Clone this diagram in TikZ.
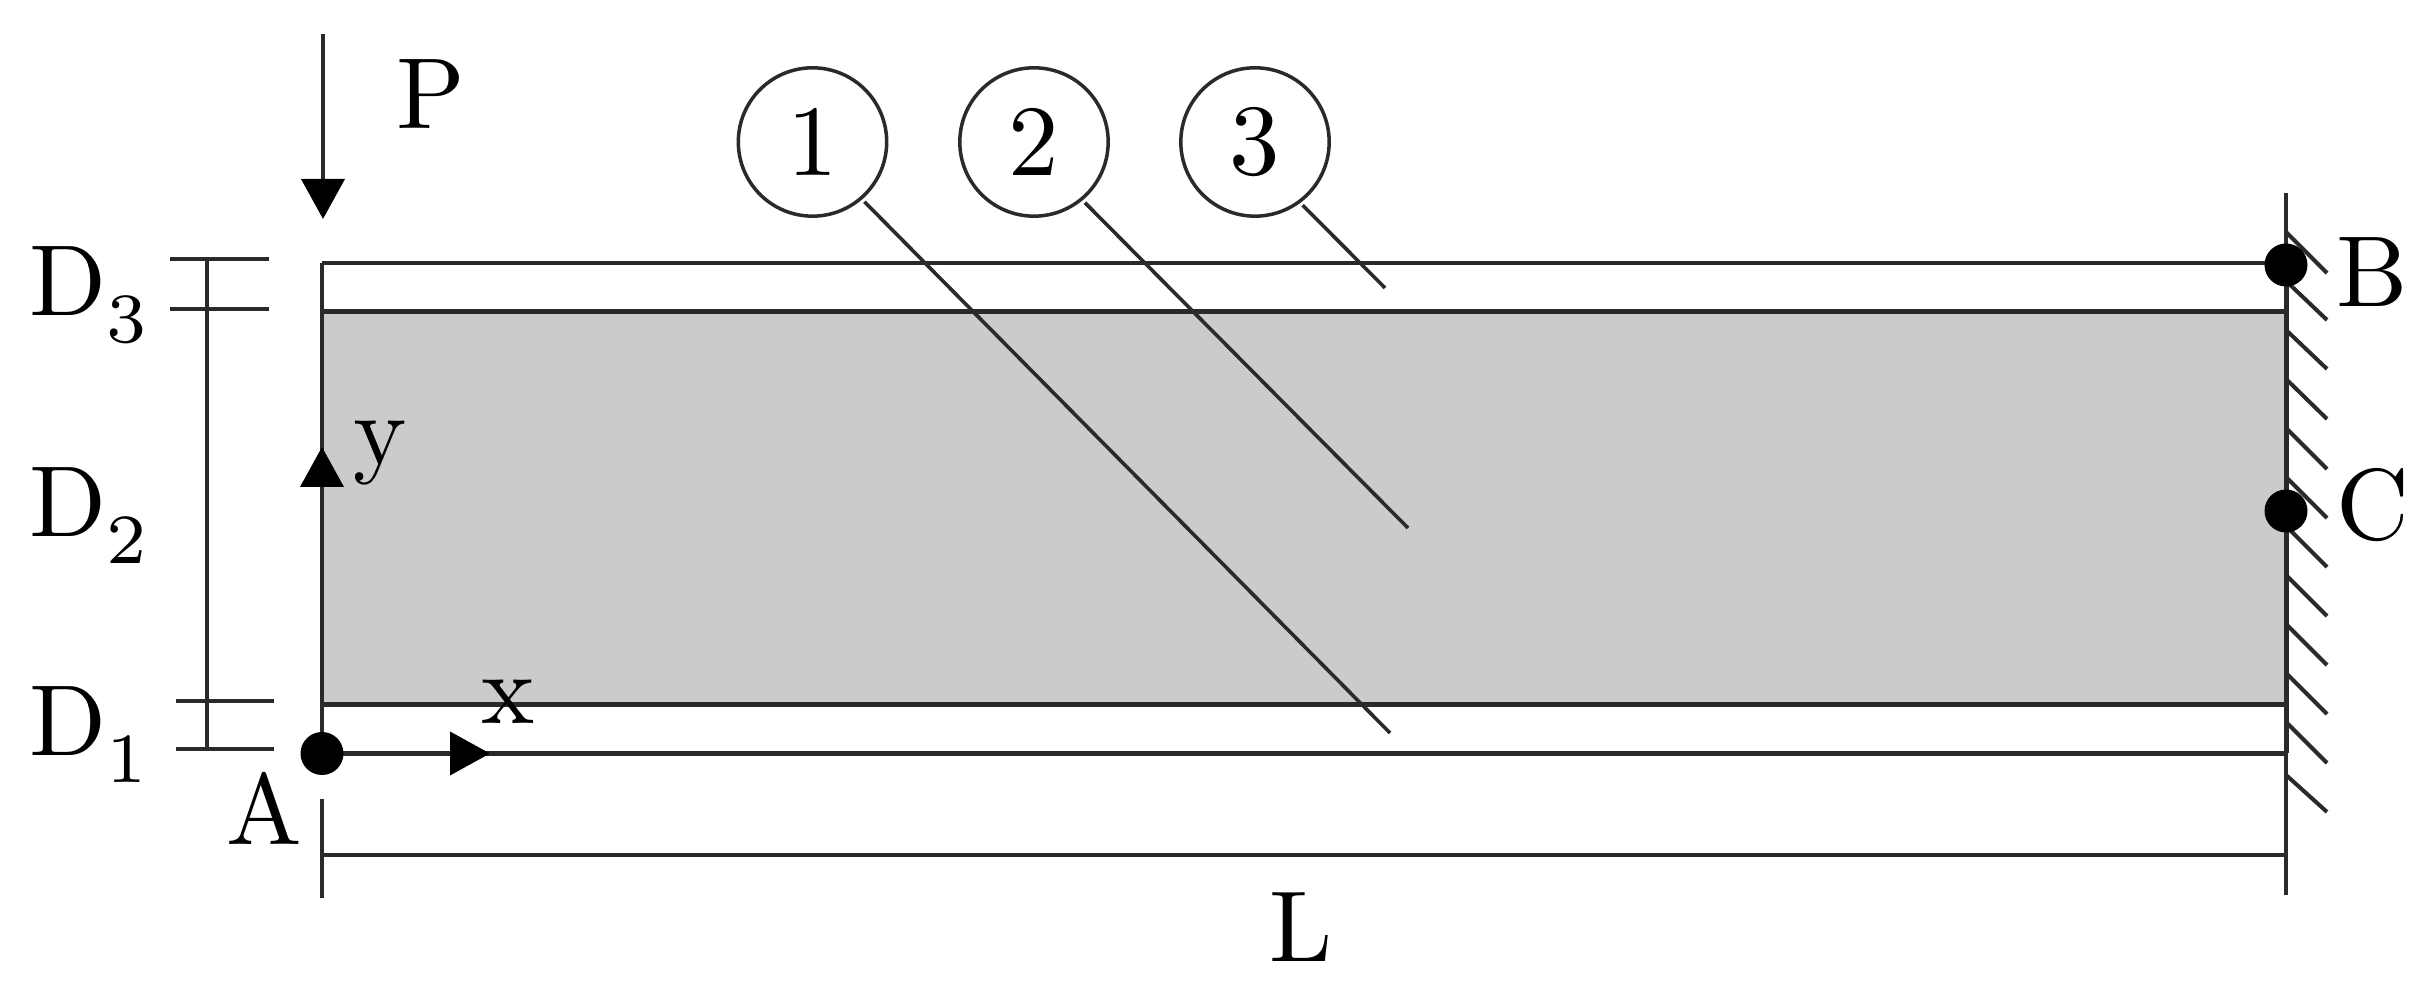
\documentclass[tikz,border=0pt]{standalone}
\usetikzlibrary{arrows.meta}
\definecolor{corecolor}{HTML}{CBCBCB}
\definecolor{linecolor}{HTML}{2A2A2A}
\newcommand{\lowsub}[1]{_{\raisebox{-1.1pt}{$\scriptstyle #1$}}}
\tikzset{
  beam/.style={line width=0.045cm,draw=linecolor},
  thinline/.style={line width=0.036cm,draw=linecolor},
  hatchline/.style={line width=0.04cm,draw=linecolor},
  loadarrow/.style={line width=0.04cm,draw=linecolor,-{Triangle[length=0.40cm,width=0.43cm,color=black]}},
  pointdot/.style={circle,fill=black,inner sep=0pt,minimum size=0.43cm},
  layercircle/.style={circle,draw=linecolor,line width=0.035cm,fill=white,inner sep=0pt,minimum size=0.517cm},
  bigtext/.style={inner sep=0pt,scale=2.87}
}
\begin{document}
\begin{tikzpicture}
\useasboundingbox (0,0) rectangle (24.33,9.82);

% Drawing the core layer
\fill [corecolor] (3.22,2.775) rectangle (22.86,6.705);

% Drawing the layer boundaries
\draw [beam] (3.22,7.19) -- (22.86,7.19);
\draw [beam] (3.22,6.705) -- (22.86,6.705);
\draw [beam] (3.22,2.775) -- (22.86,2.775);
\draw [beam] (3.22,2.285) -- (22.86,2.285);

% Drawing the left edge and the wall
\draw [beam] (3.22,7.19) -- (3.22,2.285);
\draw [thinline] (22.86,7.885) -- (22.86,0.87);
\draw [line width=0.05cm,draw=linecolor] (22.86,7.19) -- (22.86,2.285);

% Drawing the hatches of the wall
\draw [hatchline] (22.86,7.50) -- (23.27,7.09);
\draw [hatchline] (22.86,7.01) -- (23.27,6.62);
\draw [hatchline] (22.86,6.52) -- (23.27,6.13);
\draw [hatchline] (22.86,6.03) -- (23.27,5.63);
\draw [hatchline] (22.86,5.54) -- (23.27,5.13);
\draw [hatchline] (22.86,5.05) -- (23.27,4.64);
\draw [hatchline] (22.86,4.56) -- (23.27,4.15);
\draw [hatchline] (22.86,4.07) -- (23.27,3.66);
\draw [hatchline] (22.86,3.58) -- (23.27,3.17);
\draw [hatchline] (22.86,3.09) -- (23.27,2.68);
\draw [hatchline] (22.86,2.60) -- (23.27,2.19);
\draw [hatchline] (22.86,2.07) -- (23.27,1.70);

% Marking points A, B and C
\node [pointdot] (pointA) at (3.22,2.285) {};
\node [pointdot] (pointB) at (22.86,7.17) {};
\node [pointdot] (pointC) at (22.86,4.71) {};

% Drawing the load P
\coordinate (loadStart) at (3.23,9.48);
\coordinate (loadTip) at (3.23,7.63);
\draw [loadarrow] (loadStart) -- (loadTip);

% Drawing the axes
\coordinate (xTip) at (4.90,2.285);
\coordinate (yTip) at (3.22,5.35);
\draw [loadarrow] (pointA) -- (xTip);
\draw [loadarrow] (pointA) -- (yTip);

% Drawing the thickness dimensions
\draw [thinline] (2.07,7.23) -- (2.07,2.32);
\draw [thinline] (1.70,7.23) -- (2.69,7.23);
\draw [thinline] (1.70,6.73) -- (2.69,6.73);
\draw [thinline] (1.755,2.81) -- (2.74,2.81);
\draw [thinline] (1.755,2.33) -- (2.74,2.33);

% Drawing the length dimension
\draw [thinline] (3.22,1.27) -- (22.86,1.27);
\draw [thinline] (3.22,1.83) -- (3.22,0.84);

% Drawing the layer callouts
\node [layercircle,bigtext] (circleOne) at (8.125,8.40) {1};
\node [layercircle,bigtext] (circleTwo) at (10.34,8.40) {2};
\node [layercircle,bigtext] (circleThree) at (12.55,8.40) {3};
\coordinate (layerOne) at (13.90,2.49);
\coordinate (layerTwo) at (14.08,4.54);
\coordinate (layerThree) at (13.85,6.94);
\draw [thinline] (circleOne.-49) -- (layerOne);
\draw [thinline] (circleTwo.-50) -- (layerTwo);
\draw [thinline] (circleThree.-53) -- (layerThree);

% Marking the labels
\node [bigtext,anchor=base west] (labelP) at (3.94,8.53) {P};
\node [bigtext,anchor=base west] (labelY) at (3.51,5.17) {y};
\node [bigtext,anchor=base west] (labelX) at (4.79,2.58) {x};
\node [bigtext,anchor=base west] (labelA) at (2.24,1.37) {A};
\node [bigtext,anchor=base west] (labelB) at (23.34,6.755) {B};
\node [bigtext,anchor=base west] (labelC) at (23.34,4.42) {C};
\node [bigtext,anchor=base west] (labelL) at (12.67,0.20) {L};
\node [bigtext,anchor=base west] (labelDthree) at (0.27,6.66) {$\mathrm{D}\lowsub{3}$};
\node [bigtext,anchor=base west] (labelDtwo) at (0.27,4.45) {$\mathrm{D}\lowsub{2}$};
\node [bigtext,anchor=base west] (labelDone) at (0.27,2.26) {$\mathrm{D}\lowsub{1}$};
\end{tikzpicture}
\end{document}
